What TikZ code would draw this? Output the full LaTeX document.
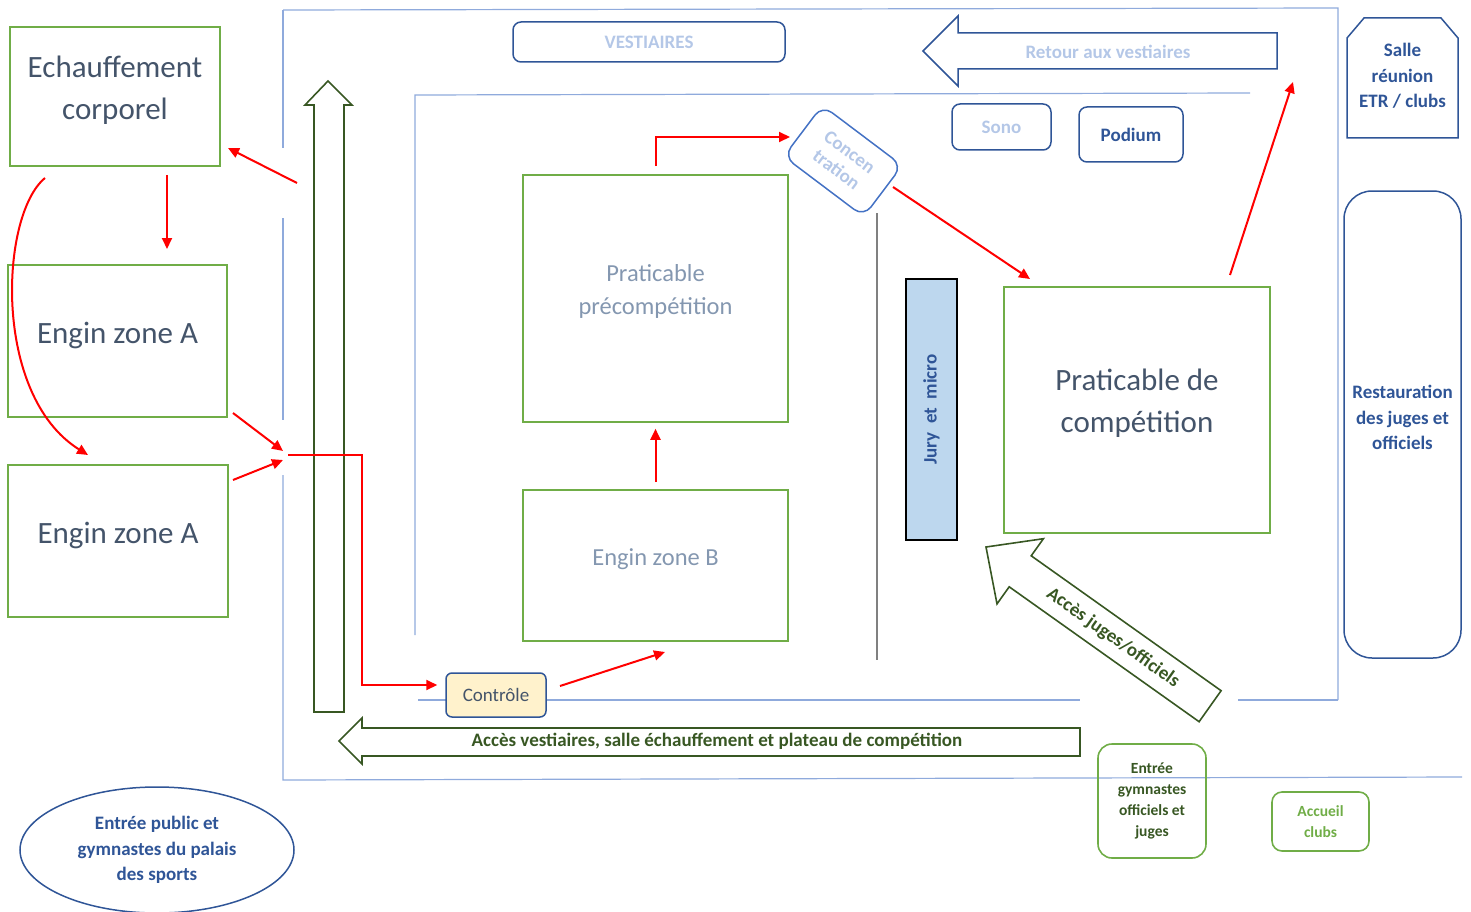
\documentclass[tikz,border=0pt]{standalone}
\usepackage{fontspec}
\setmainfont{Carlito}
\usetikzlibrary{arrows.meta,shapes.geometric}

\definecolor{wallblue}{RGB}{143,170,220}
\definecolor{darkblue}{RGB}{47,85,151}
\definecolor{midblue}{RGB}{68,114,196}
\definecolor{paleblue}{RGB}{180,199,231}
\definecolor{slate}{RGB}{68,84,106}
\definecolor{greyblue}{RGB}{132,151,176}
\definecolor{zonegreen}{RGB}{112,173,71}
\definecolor{pathgreen}{RGB}{56,87,35}
\definecolor{jurybg}{RGB}{189,215,238}
\definecolor{ctrlbg}{RGB}{255,242,204}

\def\fs#1#2{\fontsize{#1}{#2}\selectfont}

\tikzset{
	wall/.style={draw=wallblue, line width=1.2pt},
	zone/.style={draw=zonegreen, line width=1.6pt, inner sep=0pt},
	bigtext/.style={text=slate, font=\fs{31}{42}, align=center},
	softtext/.style={text=greyblue, font=\fs{24.5}{33}, align=center},
	roombox/.style={draw=darkblue, line width=1.5pt, rounded corners=8pt, inner sep=0pt, align=center},
	greenroom/.style={draw=zonegreen, line width=1.6pt, rounded corners=14pt, inner sep=0pt, align=center, font=\bfseries\fs{15.5}{21}},
	bigarrow/.style={draw=pathgreen, line width=1.6pt, line join=miter},
	flow/.style={draw=red, line width=2pt, -{Triangle[length=11pt,width=10pt]}},
}

\begin{document}
\begin{tikzpicture}[x=1pt, y=-1pt]
		%%%%% START %%%%%
		\useasboundingbox (0,0) rectangle (1471,912);
		
		% walls
		\draw[wall] (283,10) -- (1338,8) -- (1338,700);
		\draw[wall] (283,10) -- (283,148);
		\draw[wall] (283,218) -- (283,420);
		\draw[wall] (283,475) -- (283,780) -- (1462,777);
		\draw[wall] (1250,93) -- (415,95) -- (415,635);
		\draw[wall] (418,700) -- (1080,700);
		\draw[wall] (1238,700) -- (1338,700);
		\draw[draw=black!50, line width=1.2pt] (877,213) -- (877,660);
		
		% big passage arrows
		\draw[bigarrow] (314,712) -- (314,105) -- (305,105) -- (328,81) -- (352,105) -- (344,105) -- (344,712) -- cycle;
		\draw[bigarrow] (1080,728) -- (362,728) -- (362,718) -- (339,741) -- (362,764) -- (362,756) -- (1080,756) -- cycle;
		\node[text=pathgreen, font=\bfseries\fs{19}{22}] (accesvest) at (717,741) {Accès vestiaires, salle échauffement et plateau de compétition};
		\draw[bigarrow] (986,547) -- (1043.4,538.7) -- (1031.2,555.8) -- (1221.1,690.7) -- (1199.1,721.7) -- (1009.2,586.8) -- (997,603.9) -- cycle;
		\node[text=pathgreen, font=\bfseries\fs{19}{22}, rotate=-35.4] (accesjuges) at (1113,638) {Accès juges/officiels};
		\draw[draw=darkblue, line width=1.5pt] (1277,33) -- (958,33) -- (958,16) -- (923,51) -- (958,86) -- (958,69) -- (1277,69) -- cycle;
		\node[text=paleblue, font=\bfseries\fs{19}{22}] (retour) at (1108,52) {Retour aux vestiaires};
		
		% warm-up side
		\node[zone, minimum width=210, minimum height=139] (echauf) at (115,96.5) {};
		\node[bigtext] (echauf-t) at ([yshift=6pt]echauf.center) {Echauffement\\corporel};
		\node[zone, minimum width=219, minimum height=152] (enginA1) at (117.5,341) {};
		\node[bigtext] (enginA1-t) at ([yshift=6pt]enginA1.center) {Engin zone A};
		\node[zone, minimum width=220, minimum height=152] (enginA2) at (118,541) {};
		\node[bigtext] (enginA2-t) at ([yshift=6pt]enginA2.center) {Engin zone A};
		
		% hall
		\node[zone, minimum width=265, minimum height=247] (precomp) at (655.5,298.5) {};
		\node[softtext] (precomp-t) at ([yshift=7pt]precomp.center) {Praticable\\précompétition};
		\node[zone, minimum width=265, minimum height=151] (enginB) at (655.5,565.5) {};
		\node[softtext] (enginB-t) at ([yshift=6pt]enginB.center) {Engin zone B};
		\node[zone, minimum width=266, minimum height=246] (compet) at (1137,410) {};
		\node[bigtext] (compet-t) at ([yshift=7pt]compet.center) {Praticable de\\compétition};
		
		\node[roombox, minimum width=272, minimum height=40, text=paleblue, font=\bfseries\fs{19}{22}] (vestiaires) at (649,42) {VESTIAIRES};
		\node[roombox, minimum width=99, minimum height=46, text=paleblue, font=\bfseries\fs{19}{22}] (sono) at (1001.5,127) {Sono};
		\node[roombox, minimum width=104, minimum height=55, text=darkblue, font=\bfseries\fs{19}{22}] (podium) at (1131,134.5) {Podium};
		\node[draw=midblue, line width=1.5pt, rounded corners=12pt, rotate=-37, minimum width=100, minimum height=64, inner sep=0pt, align=center, text=paleblue, font=\bfseries\fs{19}{22}] (concen) at (843,161) {Concen\\tration};
		\node[draw=black, line width=1.5pt, fill=jurybg, minimum width=51, minimum height=261, inner sep=0pt] (jury) at (931.5,409.5) {};
		\node[rotate=90, text=darkblue, font=\bfseries\fs{19}{22}] (jury-t) at (jury.center) {Jury~~et~~micro};
		\node[roombox, rounded corners=6pt, fill=ctrlbg, minimum width=100, minimum height=44, text=slate, font=\fs{19}{22}] (controle) at (496,695) {Contrôle};
		
		% rooms outside
		\draw[draw=darkblue, line width=1.5pt] (1347,138) -- (1347,38) -- (1364,18) -- (1441,18) -- (1458,38) -- (1458,138) -- cycle;
		\node[text=darkblue, font=\bfseries\fs{19}{25.5}, align=center] (salle) at (1402.5,76) {Salle\\réunion\\ETR / clubs};
		\node[roombox, rounded corners=28pt, minimum width=117, minimum height=467] (resto) at (1402.5,424.5) {};
		\node[text=darkblue, font=\bfseries\fs{19}{25.5}, align=center] (resto-t) at ([yshift=7pt]resto.center) {Restauration\\des juges et\\officiels};
		\node[ellipse, draw=darkblue, line width=1.5pt, minimum width=274, minimum height=126, inner sep=0pt, align=center, text=darkblue, font=\bfseries\fs{19}{25.5}] (entpublic) at (157,850) {Entrée public et\\gymnastes du palais\\des sports};
		\node[greenroom, minimum width=108, minimum height=114, text=pathgreen] (entgym) at (1152,801) {Entrée\\gymnastes\\officiels et\\juges};
		\node[greenroom, rounded corners=10pt, minimum width=97, minimum height=59, text=zonegreen, font=\bfseries\fs{15.5}{21}] (accueil) at (1320.5,821.5) {Accueil\\clubs};
		
		% red flows
		\coordinate (f1a) at (297,183);
		\coordinate (f1b) at (228,148);
		\draw[flow] (f1a) -- (f1b);
		\coordinate (f2a) at (167,175);
		\coordinate (f2b) at (167,249);
		\draw[flow] (f2a) -- (f2b);
		\coordinate (f3a) at (45,178);
		\coordinate (f3b) at (88,455);
		\draw[flow] (f3a) .. controls (0,215) and (-8,395) .. (f3b);
		\coordinate (f4a) at (233,413);
		\coordinate (f4b) at (283,451);
		\draw[flow] (f4a) -- (f4b);
		\coordinate (f5a) at (233,480);
		\coordinate (f5b) at (283,460);
		\draw[flow] (f5a) -- (f5b);
		\coordinate (f6a) at (288,455);
		\coordinate (f6b) at (362,455);
		\draw[flow] (f6a) -- (f6b) |- ([xshift=-8pt]controle.west |- 0,685);
		\coordinate (f7a) at (560,686);
		\coordinate (f7b) at (665,652);
		\draw[flow] (f7a) -- (f7b);
		\draw[flow, shorten <=7pt, shorten >=6pt] (enginB) -- (precomp);
		\coordinate (f9b) at (790,137);
		\draw[flow] ([yshift=8pt]precomp.north) |- (f9b);
		\coordinate (f10a) at (893,187);
		\coordinate (f10b) at (1030,279);
		\draw[flow] (f10a) -- (f10b);
		\coordinate (f11a) at (1230,275);
		\coordinate (f11b) at (1293,82);
		\draw[flow] (f11a) -- (f11b);
		%%%%% END %%%%%
\end{tikzpicture}
\end{document}
